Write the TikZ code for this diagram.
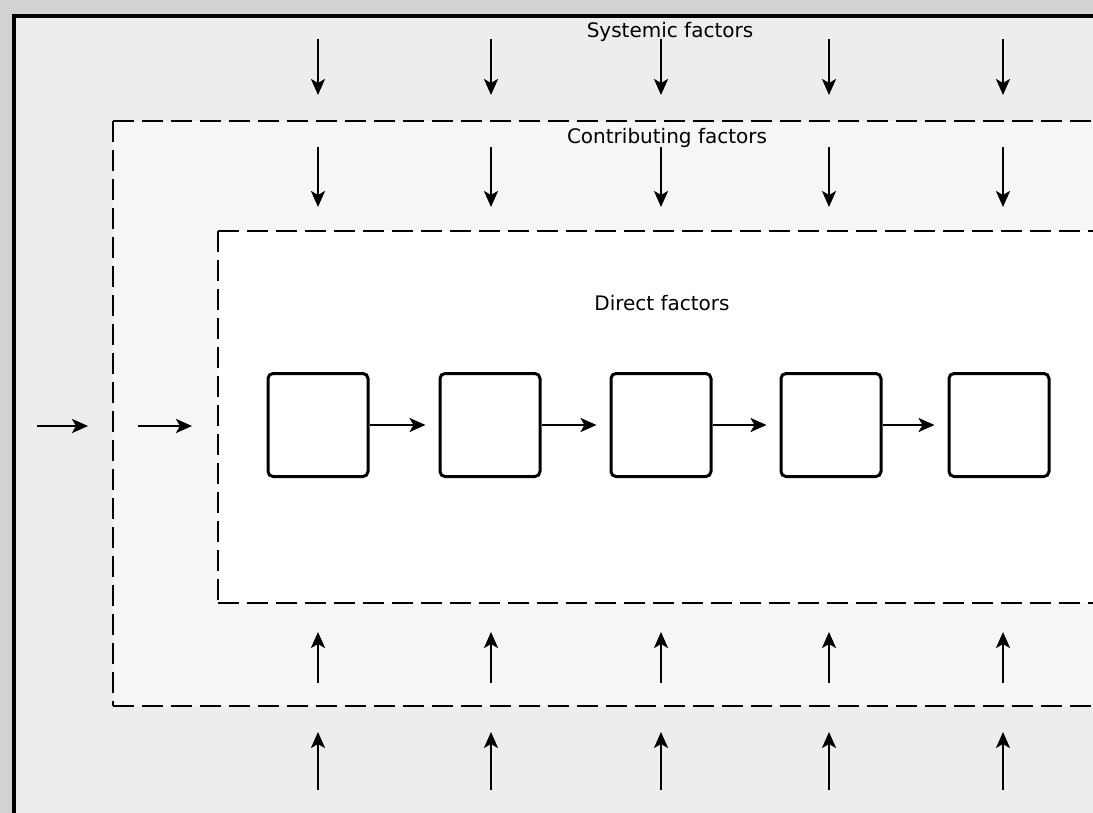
\documentclass[tikz,border=0pt]{standalone}
\usepackage{fontspec}
\setmainfont{DejaVu Sans}
\usetikzlibrary{arrows.meta}

\begin{document}
\begin{tikzpicture}[x=1pt,y=-1pt,
  tag/.style={font=\fontsize{20}{24}\selectfont, inner sep=0pt, anchor=base},
  factorbox/.style={draw, line width=3pt, rounded corners=5pt,
    minimum width=100pt, minimum height=103pt, inner sep=0pt, fill=white},
  flow/.style={line width=2.4pt, -{Stealth[length=16pt,width=14pt,inset=4pt]}},
  zone/.style={line width=2.8pt, dash pattern=on 21pt off 8pt},
  frame/.style={line width=3.4pt},
]
\useasboundingbox (0,0) rectangle (1093,813);
\clip (0,0) rectangle (1093,813);

% shaded levels
\fill[gray!35] (0,0) rectangle (1093,813);
\fill[gray!14] (14,16) rectangle (1200,900);
\fill[gray!7] (113,121) rectangle (1200,706);
\fill[white] (218,231) rectangle (1200,603);

% systemic level: solid frame open to the right and bottom
\draw[frame] (14,900) -- (14,16) -- (1200,16);

% contributing level
\draw[zone] (113,121) -- (1200,121);
\draw[zone] (113,121) -- (113,706);
\draw[zone] (113,706) -- (1200,706);

% direct level
\draw[zone] (218,231) -- (1200,231);
\draw[zone] (218,231) -- (218,603);
\draw[zone] (218,603) -- (1200,603);

% level titles
\node[tag] (sys) at (670,38) {Systemic factors};
\node[tag] (con) at (667,144) {Contributing factors};
\node[tag] (dir) at (662,311) {Direct factors};

% chain of events
\node[factorbox] (b1) at (318,425) {};
\node[factorbox] (b2) at (490,425) {};
\node[factorbox] (b3) at (661,425) {};
\node[factorbox] (b4) at (831,425) {};
\node[factorbox] (b5) at (999,425) {};

\foreach \a/\b in {b1/b2,b2/b3,b3/b4,b4/b5}{
  \coordinate (\a tip) at ([xshift=-13pt]\b.west);
  \draw[flow] (\a.east) -- (\a tip);
}

% inputs entering from the left
\coordinate (l1s) at (37,426);  \coordinate (l1e) at (88,426);
\coordinate (l2s) at (138,426); \coordinate (l2e) at (192,426);
\draw[flow] (l1s) -- (l1e);
\draw[flow] (l2s) -- (l2e);

% influences from above and below
\foreach \i/\x in {1/318,2/491,3/661,4/829,5/1003}{
  \coordinate (ta\i) at (\x,39);  \coordinate (tb\i) at (\x,95);
  \coordinate (ua\i) at (\x,147); \coordinate (ub\i) at (\x,207);
  \coordinate (va\i) at (\x,683); \coordinate (vb\i) at (\x,632);
  \coordinate (wa\i) at (\x,790); \coordinate (wb\i) at (\x,732);
  \draw[flow] (ta\i) -- (tb\i);
  \draw[flow] (ua\i) -- (ub\i);
  \draw[flow] (va\i) -- (vb\i);
  \draw[flow] (wa\i) -- (wb\i);
}
\end{tikzpicture}
\end{document}
